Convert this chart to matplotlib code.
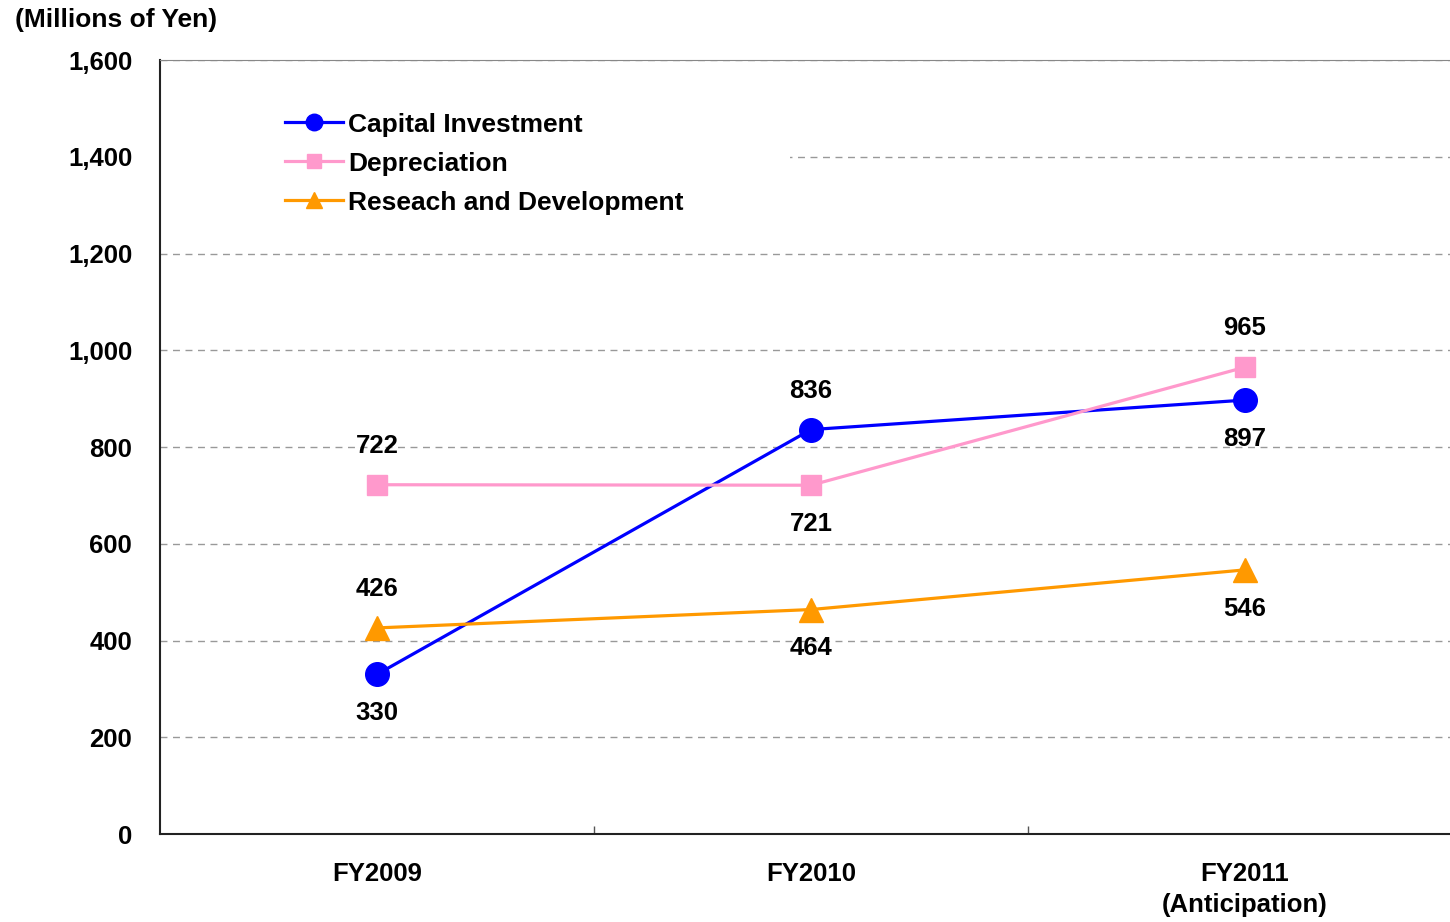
import matplotlib.pyplot as plt
from matplotlib.patches import Rectangle
from matplotlib.ticker import FuncFormatter

plt.rcParams['font.family'] = ['Liberation Sans', 'DejaVu Sans']
plt.rcParams['font.weight'] = 'bold'

years = ["FY2009", "FY2010", "FY2011\n(Anticipation)"]
capital = [330, 836, 897]
depreciation = [722, 721, 965]
research = [426, 464, 546]

# label above (+1) or below (-1) each point
capital_side = [-1, 1, -1]
depreciation_side = [1, -1, 1]
research_side = [1, -1, -1]

fig = plt.figure(figsize=(14.5, 9.22), dpi=100)
ax = fig.add_axes([160 / 1450, (922 - 834) / 922, 1302 / 1450, 774 / 922])

x = list(range(len(years)))
series = [
    (capital, capital_side, "#0000FF", "o", 17, "Capital Investment"),
    (depreciation, depreciation_side, "#FF99CC", "s", 14, "Depreciation"),
    (research, research_side, "#FF9900", "^", 17, "Reseach and Development"),
]

for vals, sides, color, marker, ms, label in series:
    ax.plot(x, vals, color=color, lw=2.3, marker=marker, ms=ms,
            markeredgecolor=color, label=label, zorder=3)
    for xi, v, s in zip(x, vals, sides):
        ax.annotate(f"{v:,}", (xi, v), xytext=(0, 28 * s), textcoords="offset points",
                    ha="center", va="center", fontsize=18.5, fontweight="bold")

ax.set_xlim(-0.5, 2.5)
ax.set_ylim(0, 1600)
ax.set_yticks(range(0, 1601, 200))
ax.yaxis.set_major_formatter(FuncFormatter(lambda v, p: f"{int(v):,}"))
ax.set_xticks(x)
ax.set_xticklabels(years, linespacing=1.4)
ax.set_xticks([0.5, 1.5], minor=True)
ax.tick_params(axis="x", which="major", length=0, pad=20, labelsize=18.5)
ax.tick_params(axis="x", which="minor", direction="in", length=6, width=1, color="#555555")
ax.tick_params(axis="y", length=0, pad=20, labelsize=18.5)

ax.grid(axis="y", color="#999999", linestyle=(0, (5, 4)), lw=1)
ax.set_axisbelow(True)
ax.spines["top"].set_color("#888888")
ax.spines["right"].set_visible(False)
ax.spines["left"].set_color("#222222")
ax.spines["bottom"].set_color("#222222")
ax.spines["left"].set_linewidth(1.5)
ax.spines["bottom"].set_linewidth(1.5)

# white legend area hides part of the 1,400 gridline
ax.add_patch(Rectangle((0, 0.787), 0.484, 0.168, transform=ax.transAxes,
                       facecolor="white", edgecolor="none", zorder=1.5))

ax.legend(loc="upper left", bbox_to_anchor=(0.096, 0.932), frameon=False,
          fontsize=19, handlelength=2.2, handletextpad=0.2, labelspacing=0.57,
          borderpad=0, borderaxespad=0, markerscale=0.7)

fig.text(15 / 1450, 1 - 20 / 922, "(Millions of Yen)", ha="left", va="center",
         fontsize=19, fontweight="bold")

fig.savefig("out.png", dpi=100)
